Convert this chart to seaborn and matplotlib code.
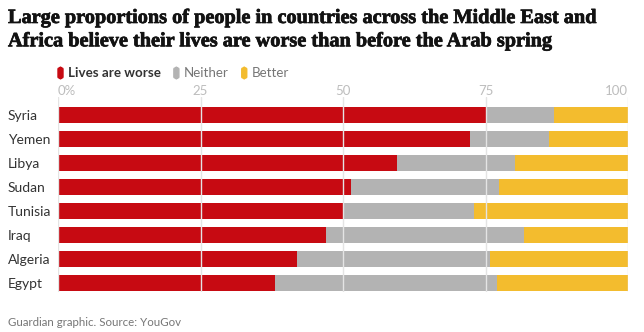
import matplotlib
matplotlib.use("Agg")
import matplotlib.pyplot as plt
import matplotlib.patheffects as pe
import seaborn as sns
import pandas as pd
from matplotlib.patches import FancyBboxPatch

countries = ["Syria", "Yemen", "Libya", "Sudan", "Tunisia", "Iraq", "Algeria", "Egypt"]
worse = [75, 72.3, 59.5, 51.4, 50.0, 47.0, 41.9, 38.1]
neither = [12, 13.8, 20.7, 25.9, 23.0, 34.8, 33.9, 38.9]
better = [round(100 - w - n, 1) for w, n in zip(worse, neither)]
tick_vals = [0, 25, 50, 75, 100]
tick_labels = ["0%", "25", "50", "75", "100"]
series_names = ["Lives are worse", "Neither", "Better"]
colors = ["#c70a12", "#b3b3b3", "#f3bc2e"]

sns.set_theme(style="white")
plt.rcParams["font.family"] = ["Lato", "DejaVu Sans"]

df = pd.DataFrame({"country": countries, "worse": worse, "neither": neither, "better": better})
df["c1"] = df["worse"]
df["c2"] = df["worse"] + df["neither"]
df["c3"] = df["c2"] + df["better"]

W, H = 644, 332
fig = plt.figure(figsize=(W / 100, H / 100), dpi=100)
ax_top, ax_bot = 97, 292
ax = fig.add_axes([58 / W, 1 - ax_bot / H, (628 - 58) / W, (ax_bot - ax_top) / H])

for col, c in zip(["c3", "c2", "c1"], colors[::-1]):
    sns.barplot(data=df, x=col, y="country", order=countries, color=c,
                width=0.67, saturation=1, ax=ax, edgecolor="none", zorder=2)

ax.set_xlim(0, 100)
ax.set_ylim(7.375, -0.74)
for v in tick_vals:
    ax.axvline(v, color="#e4e4e4", lw=1, zorder=3)
for s in ax.spines.values():
    s.set_visible(False)
ax.set_xlabel("")
ax.set_ylabel("")
ax.set_xticks([])
ax.tick_params(axis="y", length=0, pad=36, labelsize=10, labelcolor="#333333")
for lab in ax.get_yticklabels():
    lab.set_ha("left")

# top tick labels
has = ["left", "center", "center", "center", "right"]
for v, t, ha in zip(tick_vals, tick_labels, has):
    ax.annotate(t, xy=(v, 1), xycoords=("data", "axes fraction"), xytext=(0, 0),
                textcoords="offset points", ha=ha, va="bottom", fontsize=9.5, color="#bdbdbd")

# title
fig.text(8 / W, 1 - 8 / H,
         "Large proportions of people in countries across the Middle East and\n"
         "Africa believe their lives are worse than before the Arab spring",
         ha="left", va="top", fontsize=14.6, fontweight="bold",
         family=["Liberation Serif", "DejaVu Serif"], color="#121212", linespacing=1.22,
         path_effects=[pe.withStroke(linewidth=0.5, foreground="#121212")])

# legend
lx = 58
ly = 73
for name, c, weight, tc in zip(series_names, colors, ["bold", "normal", "normal"],
                               ["#333333", "#767676", "#767676"]):
    fig.patches.append(FancyBboxPatch((lx / W, 1 - (ly + 5.5) / H), 5 / W, 11 / H,
                                      boxstyle="round,pad=0,rounding_size=0.005",
                                      transform=fig.transFigure, color=c, figure=fig))
    t = fig.text((lx + 10) / W, 1 - ly / H, name, ha="left", va="center",
                 fontsize=9.6, fontweight=weight, color=tc)
    fig.canvas.draw()
    bb = t.get_window_extent()
    lx = bb.x1 + 13

fig.text(8 / W, 1 - 322 / H, "Guardian graphic. Source: YouGov", ha="left", va="center",
         fontsize=8.3, color="#767676")

fig.savefig("out.png", dpi=100)
